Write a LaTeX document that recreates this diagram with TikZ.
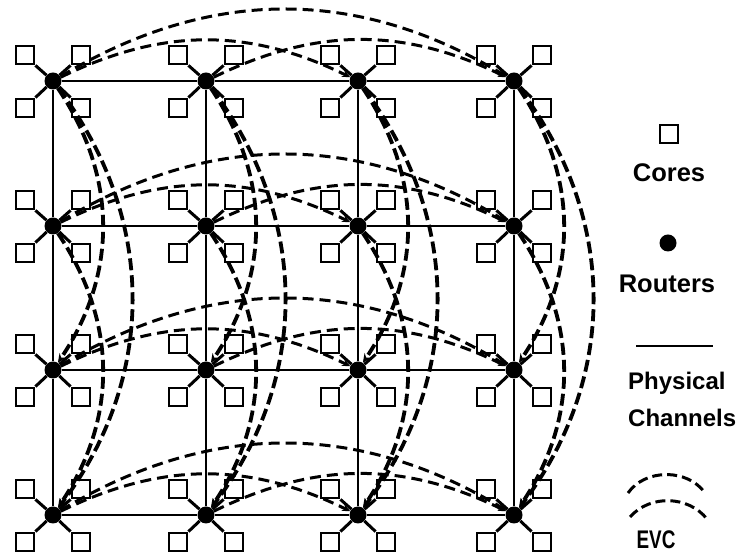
\documentclass[tikz,border=0pt]{standalone}
\usepackage{fontspec}
\setmainfont{Liberation Sans}
\usetikzlibrary{arrows.meta}
\begin{document}
\begin{tikzpicture}[x=1pt,y=1pt,
  core/.style={draw,line width=2.8pt,minimum size=18pt,inner sep=0pt},
  router/.style={circle,fill,minimum size=17pt,inner sep=0pt},
  spoke/.style={line width=3pt},
  phys/.style={line width=2.4pt},
  evch/.style={line width=3pt,dash pattern=on 11pt off 6pt,-{Stealth[length=8pt,width=7pt]}},
  evcv/.style={line width=3.8pt,dash pattern=on 12pt off 5pt,-{Stealth[length=9pt,width=8pt]}},
  evcl/.style={line width=3pt,dash pattern=on 10pt off 5pt},
  lbl/.style={font=\bfseries\fontsize{25.5}{28}\selectfont,inner sep=0pt,anchor=base},
  lbls/.style={font=\bfseries\fontsize{24}{27}\selectfont,inner sep=0pt,anchor=base west}]
\useasboundingbox (0,0) rectangle (744,556);
% routers and cores
\foreach \i/\x in {0/53,1/206,2/358,3/514}{
  \foreach \j/\y in {0/475,1/330,2/186,3/41}{
    \node[router] (r\i\j) at (\x,\y) {};
    \node[core] (nw\i\j) at (\x-28,\y+26) {};
    \node[core] (ne\i\j) at (\x+28,\y+26) {};
    \node[core] (sw\i\j) at (\x-28,\y-27) {};
    \node[core] (se\i\j) at (\x+28,\y-27) {};
    \draw[spoke] (r\i\j) -- (nw\i\j.south east);
    \draw[spoke] (r\i\j) -- (ne\i\j.south west);
    \draw[spoke] (r\i\j) -- (sw\i\j.north east);
    \draw[spoke] (r\i\j) -- (se\i\j.north west);
  }
}
% physical channels
\foreach \j in {0,1,2,3}{
  \draw[phys] (r0\j) -- (r1\j) -- (r2\j) -- (r3\j);
}
\foreach \i in {0,1,2,3}{
  \draw[phys] (r\i0) -- (r\i1) -- (r\i2) -- (r\i3);
}
% horizontal EVCs
\foreach \j in {0,1,2,3}{
  \draw[evch] (r0\j) to[bend left=26] (r2\j);
  \draw[evch] (r1\j) to[bend left=26] (r3\j);
  \draw[evch] (r0\j) to[bend left=31] (r3\j);
}
% vertical EVCs
\foreach \i in {0,1,2,3}{
  \draw[evcv] (r\i0) to[bend left=34] (r\i2);
  \draw[evcv] (r\i1) to[bend left=34] (r\i3);
  \draw[evcv] (r\i0) to[bend left=37] (r\i3);
}
% legend
\node[core] (lcore) at (669,422) {};
\node[lbl] (lcores) at (669,374) {Cores};
\node[router] (lrouter) at (668,313) {};
\node[lbl] (lrouters) at (667,263) {Routers};
\coordinate (pla) at (636,210);
\coordinate (plb) at (713,210);
\draw[phys] (pla) -- (plb);
\node[lbls] (lphys) at (628,166) {Physical};
\node[lbls] (lchan) at (628,129) {Channels};
\coordinate (ea1) at (628,63);
\coordinate (ea2) at (705,63);
\coordinate (eb1) at (630,39);
\coordinate (eb2) at (707,37);
\draw[evcl] (ea1) to[bend left=55] (ea2);
\draw[evcl] (eb1) to[bend left=50] (eb2);
\node[lbl] (levc) at (656,7) {\scalebox{0.74}[1]{EVC}};
\end{tikzpicture}
\end{document}
